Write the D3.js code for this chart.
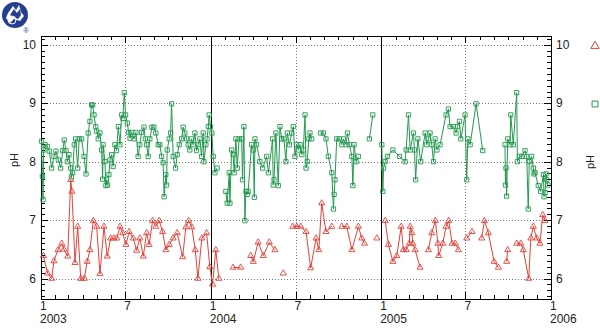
<!DOCTYPE html>
<html>
<head>
<meta charset="utf-8">
<script src="https://cdn.jsdelivr.net/npm/d3@7"></script>
<style>
  body { margin: 0; background: #fff; }
  svg { display: block; font-family: "Liberation Sans", Arial, sans-serif; }
</style>
</head>
<body>
<div id="chart"></div>
<script>
"use strict";

// sample times as decimal years, pH
var redT = [2003.014, 2003.039, 2003.063, 2003.076, 2003.100, 2003.122, 2003.135, 2003.157, 2003.175, 2003.182,
  2003.200, 2003.216, 2003.234, 2003.255, 2003.272, 2003.288, 2003.308, 2003.328, 2003.347, 2003.371,
  2003.390, 2003.410, 2003.429, 2003.447, 2003.465, 2003.481, 2003.500, 2003.519, 2003.543, 2003.563,
  2003.582, 2003.602, 2003.622, 2003.637, 2003.657, 2003.676, 2003.696, 2003.716, 2003.735, 2003.755,
  2003.778, 2003.802, 2003.834, 2003.853, 2003.869, 2003.888, 2003.908, 2003.924, 2003.947, 2003.975,
  2003.994, 2004.010, 2004.029, 2004.047, 2004.131, 2004.175, 2004.234, 2004.249, 2004.278, 2004.308,
  2004.343, 2004.376, 2004.425, 2004.481, 2004.504, 2004.528, 2004.559, 2004.586, 2004.618, 2004.634,
  2004.651, 2004.676, 2004.710, 2004.769, 2004.798, 2004.828, 2004.866, 2004.886, 2004.902, 2004.975,
  2005.024, 2005.043, 2005.069, 2005.092, 2005.118, 2005.131, 2005.147, 2005.166, 2005.171, 2005.181,
  2005.186, 2005.200, 2005.229, 2005.278, 2005.298, 2005.319, 2005.334, 2005.339, 2005.363, 2005.382,
  2005.398, 2005.418, 2005.437, 2005.455, 2005.504, 2005.535, 2005.592, 2005.608, 2005.631, 2005.665,
  2005.690, 2005.739, 2005.745, 2005.798, 2005.822, 2005.837, 2005.869, 2005.881, 2005.896, 2005.916,
  2005.935, 2005.951, 2005.965];
var redPH = [6.39, 6.09, 6.0, 6.3, 6.49, 6.6, 6.5, 6.38, 7.69, 7.49,
  6.27, 6.89, 6.0, 6.0, 6.29, 6.49, 6.99, 6.89, 6.08, 6.89,
  6.38, 6.69, 6.69, 6.69, 6.89, 6.78, 6.58, 6.8, 6.69, 6.48,
  6.69, 6.38, 6.78, 6.58, 6.99, 6.89, 6.99, 6.8, 6.49, 6.58,
  6.69, 6.78, 6.37, 6.88, 6.99, 6.88, 6.49, 6.0, 6.69, 6.78,
  6.2, 5.9, 6.49, 6.0, 6.19, 6.19, 6.39, 6.29, 6.62, 6.39,
  6.62, 6.49, 6.09, 6.89, 6.89, 6.89, 6.8, 6.18, 6.69, 6.49,
  7.29, 6.8, 6.89, 6.89, 6.89, 6.49, 6.89, 6.69, 6.6, 6.69,
  6.99, 6.58, 6.29, 6.39, 6.89, 6.49, 6.49, 6.6, 6.89, 6.78,
  6.6, 6.49, 6.19, 6.49, 6.78, 6.99, 6.6, 6.39, 6.6, 6.89,
  6.99, 6.6, 6.6, 6.49, 6.69, 6.8, 6.69, 6.99, 6.78, 6.29,
  6.19, 6.29, 6.49, 6.6, 6.6, 6.49, 6.0, 6.69, 6.89, 6.69,
  6.6, 7.09, 6.99];

var greenT = [2003.003, 2003.008, 2003.012, 2003.016, 2003.024, 2003.037, 2003.049, 2003.063, 2003.076, 2003.088,
  2003.102, 2003.116, 2003.128, 2003.137, 2003.147, 2003.155, 2003.165, 2003.175, 2003.179, 2003.186,
  2003.196, 2003.204, 2003.216, 2003.225, 2003.239, 2003.253, 2003.265, 2003.278, 2003.288, 2003.298,
  2003.304, 2003.312, 2003.322, 2003.328, 2003.337, 2003.347, 2003.357, 2003.363, 2003.366, 2003.376,
  2003.382, 2003.386, 2003.392, 2003.400, 2003.406, 2003.416, 2003.425, 2003.435, 2003.445, 2003.455,
  2003.465, 2003.475, 2003.482, 2003.490, 2003.498, 2003.508, 2003.516, 2003.524, 2003.534, 2003.547,
  2003.559, 2003.572, 2003.582, 2003.592, 2003.606, 2003.614, 2003.622, 2003.631, 2003.641, 2003.653,
  2003.665, 2003.676, 2003.690, 2003.700, 2003.710, 2003.719, 2003.725, 2003.735, 2003.739, 2003.743,
  2003.755, 2003.763, 2003.769, 2003.778, 2003.792, 2003.802, 2003.814, 2003.828, 2003.837, 2003.847,
  2003.857, 2003.866, 2003.876, 2003.886, 2003.896, 2003.906, 2003.916, 2003.925, 2003.935, 2003.945,
  2003.955, 2003.959, 2003.971, 2003.978, 2003.985, 2003.990, 2003.998, 2004.006, 2004.014, 2004.024,
  2004.037, 2004.088, 2004.096, 2004.108, 2004.112, 2004.122, 2004.131, 2004.137, 2004.147, 2004.155,
  2004.166, 2004.181, 2004.186, 2004.194, 2004.200, 2004.206, 2004.214, 2004.219, 2004.239, 2004.249,
  2004.255, 2004.259, 2004.269, 2004.288, 2004.304, 2004.328, 2004.338, 2004.363, 2004.366, 2004.371,
  2004.382, 2004.396, 2004.406, 2004.416, 2004.429, 2004.441, 2004.449, 2004.461, 2004.475, 2004.484,
  2004.494, 2004.504, 2004.514, 2004.524, 2004.534, 2004.543, 2004.553, 2004.559, 2004.566, 2004.575,
  2004.582, 2004.592, 2004.645, 2004.661, 2004.676, 2004.690, 2004.710, 2004.720, 2004.724, 2004.729,
  2004.739, 2004.755, 2004.769, 2004.778, 2004.794, 2004.802, 2004.814, 2004.828, 2004.834, 2004.841,
  2004.853, 2004.866, 2004.931, 2004.951, 2005.004, 2005.010, 2005.014, 2005.024, 2005.037, 2005.069,
  2005.108, 2005.141, 2005.147, 2005.161, 2005.171, 2005.190, 2005.196, 2005.203, 2005.216, 2005.233,
  2005.259, 2005.269, 2005.278, 2005.288, 2005.298, 2005.308, 2005.318, 2005.328, 2005.347, 2005.382,
  2005.396, 2005.406, 2005.425, 2005.441, 2005.449, 2005.461, 2005.469, 2005.494, 2005.504, 2005.510,
  2005.524, 2005.559, 2005.598, 2005.729, 2005.732, 2005.735, 2005.739, 2005.745, 2005.759, 2005.763,
  2005.778, 2005.798, 2005.802, 2005.814, 2005.828, 2005.847, 2005.857, 2005.866, 2005.872, 2005.886,
  2005.896, 2005.900, 2005.906, 2005.925, 2005.939, 2005.955, 2005.959, 2005.965, 2005.971, 2005.975,
  2005.982];
var greenPH = [8.35, 7.75, 7.35, 8.2, 8.29, 8.26, 8.18, 7.89, 8.09, 8.18,
  8.03, 7.89, 8.19, 8.37, 8.19, 8.0, 8.12, 7.89, 7.74, 7.81,
  8.29, 8.39, 7.89, 8.39, 8.39, 8.09, 7.79, 8.49, 8.69, 8.97,
  8.97, 8.8, 8.6, 8.52, 8.39, 8.49, 8.2, 7.7, 8.29, 8.0,
  7.59, 7.69, 7.6, 7.78, 8.03, 8.12, 7.92, 8.29, 8.19, 8.6,
  8.29, 8.8, 8.74, 9.18, 8.8, 8.66, 8.5, 8.4, 8.5, 8.39,
  8.5, 8.09, 8.29, 8.5, 8.59, 8.39, 8.29, 8.09, 8.39, 8.59,
  8.59, 8.49, 8.29, 8.29, 8.09, 7.98, 7.4, 7.78, 7.6, 8.2,
  8.39, 8.49, 8.99, 8.09, 7.89, 8.12, 8.29, 8.39, 8.59, 8.49,
  8.39, 8.29, 8.2, 8.39, 8.29, 8.49, 8.19, 8.29, 8.39, 8.09,
  8.49, 8.0, 8.29, 8.39, 8.6, 8.8, 8.6, 8.49, 8.09, 7.81,
  7.89, 7.49, 7.29, 7.81, 7.29, 8.2, 8.12, 7.81, 8.39, 7.89,
  8.39, 8.39, 7.69, 8.6, 6.99, 7.49, 7.44, 7.49, 8.29, 8.2,
  7.39, 8.39, 8.29, 8.0, 7.89, 8.09, 7.81, 8.39, 7.6, 7.69,
  8.49, 7.59, 8.6, 8.39, 8.39, 8.0, 8.49, 8.29, 8.49, 8.6,
  8.09, 8.29, 8.2, 8.29, 8.12, 8.2, 8.8, 7.89, 8.0, 8.39,
  8.49, 8.39, 8.49, 8.49, 8.39, 8.09, 7.81, 7.19, 7.44, 7.69,
  8.39, 8.39, 8.29, 8.39, 8.29, 8.49, 8.29, 8.09, 7.59, 8.29,
  8.0, 8.09, 8.39, 8.8, 8.29, 7.49, 7.89, 8.0, 8.09, 8.2,
  8.09, 8.0, 8.2, 8.8, 8.2, 8.49, 8.2, 7.69, 8.39, 8.0,
  8.49, 8.29, 8.39, 8.49, 8.29, 8.0, 8.39, 8.2, 8.29, 8.8,
  8.9, 8.6, 8.6, 8.49, 8.6, 8.69, 8.39, 8.8, 7.69, 8.39,
  8.29, 8.99, 8.19, 8.29, 7.6, 7.89, 7.41, 8.39, 8.29, 8.8,
  8.29, 9.18, 8.0, 8.09, 8.09, 8.19, 8.09, 7.19, 8.0, 8.09,
  7.89, 7.79, 7.81, 7.59, 7.49, 7.78, 7.4, 7.47, 7.79, 7.69,
  7.6];

var yTicks = [6, 7, 8, 9, 10];
var yearLabels = ["2003", "2004", "2005", "2006"];

var W = 600, H = 329;
var plotL = 41, plotR = 551, plotT = 36, plotB = 299;
var redColor = "#e2423a", greenColor = "#239a4e";

function toDate(t) {
  var yr = Math.floor(t);
  var a = new Date(yr, 0, 1), b = new Date(yr + 1, 0, 1);
  return new Date(+a + (t - yr) * (b - a));
}

var svg = d3.select("#chart").append("svg")
  .attr("width", W)
  .attr("height", H);

var x = d3.scaleTime()
  .domain([new Date(2003, 0, 1), new Date(2006, 0, 1)])
  .range([plotL, plotR]);
var y = d3.scaleLinear()
  .domain([5.65, 10.15])
  .range([plotB, plotT]);

// grid
svg.append("g").selectAll("line")
  .data(yTicks)
  .enter().append("line")
  .attr("x1", plotL).attr("x2", plotR)
  .attr("y1", function(d) { return Math.round(y(d)) + 0.5; })
  .attr("y2", function(d) { return Math.round(y(d)) + 0.5; })
  .attr("stroke", "#777")
  .attr("stroke-dasharray", "1,2");

var julys = [new Date(2003, 6, 1), new Date(2004, 6, 1), new Date(2005, 6, 1)];
svg.append("g").selectAll("line")
  .data(julys)
  .enter().append("line")
  .attr("x1", function(d) { return Math.round(x(d)) + 0.5; })
  .attr("x2", function(d) { return Math.round(x(d)) + 0.5; })
  .attr("y1", plotT).attr("y2", plotB)
  .attr("stroke", "#777")
  .attr("stroke-dasharray", "1,2");

var yearLines = [new Date(2004, 0, 1), new Date(2005, 0, 1)];
svg.append("g").selectAll("line")
  .data(yearLines)
  .enter().append("line")
  .attr("x1", function(d) { return Math.round(x(d)) + 0.5; })
  .attr("x2", function(d) { return Math.round(x(d)) + 0.5; })
  .attr("y1", plotT).attr("y2", plotB)
  .attr("stroke", "#000")
  .attr("stroke-width", 1);

// frame
svg.append("rect")
  .attr("x", plotL + 0.5).attr("y", plotT + 0.5)
  .attr("width", plotR - plotL).attr("height", plotB - plotT)
  .attr("fill", "none")
  .attr("stroke", "#000");

// inward ticks
var months = d3.timeMonth.range(new Date(2003, 0, 1), new Date(2006, 0, 2));
var ticksG = svg.append("g").attr("stroke", "#000");
months.forEach(function(m) {
  var xx = Math.round(x(m)) + 0.5;
  var len = (m.getMonth() % 6 === 0) ? 7 : 4;
  ticksG.append("line").attr("x1", xx).attr("x2", xx).attr("y1", plotB).attr("y2", plotB - len);
  ticksG.append("line").attr("x1", xx).attr("x2", xx).attr("y1", plotT).attr("y2", plotT + len);
});
d3.range(57, 102).forEach(function(i) {
  var v = i / 10;
  var yy = Math.round(y(v)) + 0.5;
  var len = (i % 10 === 0) ? 7 : 4;
  ticksG.append("line").attr("x1", plotL).attr("x2", plotL + len).attr("y1", yy).attr("y2", yy);
  ticksG.append("line").attr("x1", plotR).attr("x2", plotR - len).attr("y1", yy).attr("y2", yy);
});

// tick labels
svg.append("g").selectAll("text")
  .data(yTicks)
  .enter().append("text")
  .attr("x", plotL - 5)
  .attr("y", function(d) { return y(d) + 4; })
  .attr("text-anchor", "end")
  .attr("font-size", "12px")
  .attr("fill", "#222")
  .text(function(d) { return d; });
svg.append("g").selectAll("text")
  .data(yTicks)
  .enter().append("text")
  .attr("x", plotR + 5)
  .attr("y", function(d) { return y(d) + 4; })
  .attr("font-size", "12px")
  .attr("fill", "#222")
  .text(function(d) { return d; });

var monthMarks = d3.timeMonth.every(6).range(new Date(2003, 0, 1), new Date(2006, 0, 2));
svg.append("g").selectAll("text")
  .data(monthMarks)
  .enter().append("text")
  .attr("x", function(d) { return x(d) - 1; })
  .attr("y", 310)
  .attr("font-size", "12px")
  .attr("fill", "#222")
  .text(function(d) { return d.getMonth() + 1; });
svg.append("g").selectAll("text")
  .data(yearLabels)
  .enter().append("text")
  .attr("x", function(d) { return x(new Date(+d, 0, 1)) - 1; })
  .attr("y", 323)
  .attr("font-size", "12px")
  .attr("fill", "#222")
  .text(function(d) { return d; });

svg.append("text")
  .attr("transform", "translate(18,160) rotate(-90)")
  .attr("text-anchor", "middle")
  .attr("font-size", "11px")
  .attr("fill", "#222")
  .text("pH");
svg.append("text")
  .attr("transform", "translate(594,162) rotate(-90)")
  .attr("text-anchor", "middle")
  .attr("font-size", "11px")
  .attr("fill", "#222")
  .text("pH");

// series: break the line where samples are more than ~16 days apart
function segments(ts, vs) {
  var out = [], cur = [];
  ts.forEach(function(t, i) {
    if (cur.length && t - ts[i - 1] > 0.045) { out.push(cur); cur = []; }
    cur.push({ t: toDate(t), v: vs[i] });
  });
  out.push(cur);
  return out;
}

var line = d3.line()
  .x(function(d) { return x(d.t); })
  .y(function(d) { return y(d.v); });

function drawSeries(ts, vs, color, shape) {
  var g = svg.append("g");
  g.selectAll("path.seg")
    .data(segments(ts, vs))
    .enter().append("path")
    .attr("class", "seg")
    .attr("d", line)
    .attr("fill", "none")
    .attr("stroke", color)
    .attr("stroke-width", 1);
  var sym = d3.symbol().type(shape).size(shape === d3.symbolTriangle ? 16 : 18);
  g.selectAll("path.pt")
    .data(ts.map(function(t, i) { return { t: toDate(t), v: vs[i] }; }))
    .enter().append("path")
    .attr("class", "pt")
    .attr("transform", function(d) { return "translate(" + x(d.t) + "," + y(d.v) + ")"; })
    .attr("d", sym)
    .attr("fill", "none")
    .attr("stroke", color)
    .attr("stroke-width", 0.9);
}

drawSeries(redT, redPH, redColor, d3.symbolTriangle);
drawSeries(greenT, greenPH, greenColor, d3.symbolSquare);

// legend markers at the right edge
svg.append("path")
  .attr("transform", "translate(595,46)")
  .attr("d", d3.symbol().type(d3.symbolTriangle).size(30))
  .attr("fill", "none")
  .attr("stroke", redColor);
svg.append("path")
  .attr("transform", "translate(595,104)")
  .attr("d", d3.symbol().type(d3.symbolSquare).size(34))
  .attr("fill", "none")
  .attr("stroke", greenColor);

// logo
var logo = svg.append("g").attr("transform", "translate(15,15)");
logo.append("circle").attr("r", 13).attr("fill", "#253f8e");
logo.append("path")
  .attr("d", "M-7,-2 L-2,-9 L1,-5 L4,-10 L6,-3 L9,1 L5,6 L-1,4 L-5,8 L-9,3 Z")
  .attr("fill", "#fff");
logo.append("path")
  .attr("d", "M-5,0 L-1,-6 L2,-2 L5,-6 L6,0 L3,4 L-2,2 Z")
  .attr("fill", "#253f8e");
logo.append("circle").attr("cx", -3).attr("cy", 5).attr("r", 4)
  .attr("fill", "none").attr("stroke", "#fff").attr("stroke-width", 1);
svg.append("text")
  .attr("x", 26).attr("y", 33)
  .attr("text-anchor", "middle")
  .attr("font-size", "7px")
  .attr("fill", "#253f8e")
  .text("®");
</script>
</body>
</html>
